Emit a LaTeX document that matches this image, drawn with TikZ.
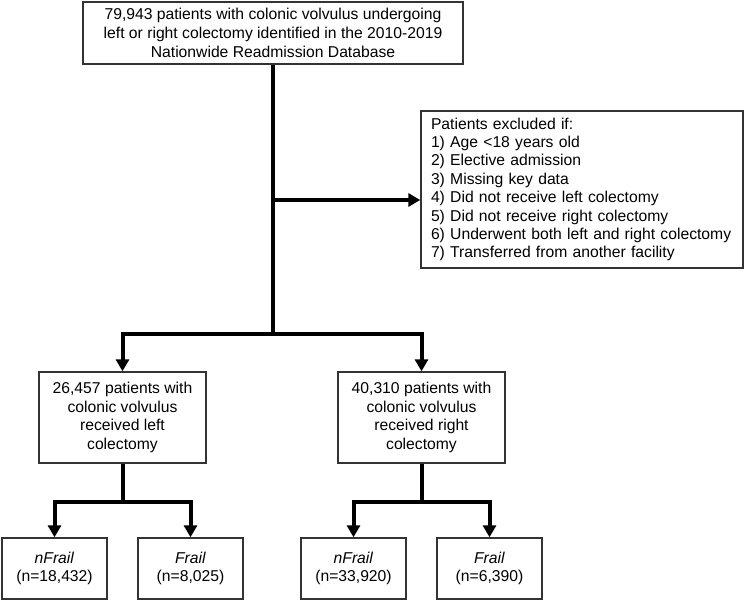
\documentclass[tikz,border=0pt]{standalone}
\usepackage{fontspec}
\setmainfont{Liberation Sans}
\usetikzlibrary{arrows.meta}

\begin{document}
\begin{tikzpicture}[x=1pt,y=-1pt,
    box/.style={draw=black!80,line width=1.4pt,align=center,inner sep=0pt,
        font=\fontsize{15.7}{18.4}\selectfont},
    flow/.style={line width=4pt,-{Triangle[length=12pt,width=13pt]}},
    link/.style={line width=4pt}]
            \useasboundingbox (0,0) rectangle (745,602);
            % boxes
            \node[box,minimum width=380pt,minimum height=62pt,font=\fontsize{15.7}{19}\selectfont] (top) at (273,33)
                {79,943 patients with colonic volvulus undergoing\\left or right colectomy identified in the 2010-2019\\Nationwide Readmission Database};
            \node[box,align=left,text width=302pt,inner xsep=10pt,minimum height=157pt] (excl) at (582,189.5)
                {Patients excluded if:\\1) Age <18 years old\\2) Elective admission\\3) Missing key data\\4) Did not receive left colectomy\\5) Did not receive right colectomy\\6) Underwent both left and right colectomy\\7) Transferred from another facility};
            \node[box,minimum width=167pt,minimum height=91pt] (left) at (122.5,417.5)
                {26,457 patients with\\colonic volvulus\\received left\\colectomy};
            \node[box,minimum width=167pt,minimum height=91pt] (right) at (421.5,417.5)
                {40,310 patients with\\colonic volvulus\\received right\\colectomy};
            \node[box,minimum width=105pt,minimum height=61pt] (nfrailL) at (54.5,568.5) {\textit{nFrail}\\(n=18,432)};
            \node[box,minimum width=105pt,minimum height=61pt] (frailL) at (190.5,568.5) {\textit{Frail}\\(n=8,025)};
            \node[box,minimum width=105pt,minimum height=61pt] (nfrailR) at (353.5,568.5) {\textit{nFrail}\\(n=33,920)};
            \node[box,minimum width=105pt,minimum height=61pt] (frailR) at (489.5,568.5) {\textit{Frail}\\(n=6,390)};
            % connectors
            \coordinate (exit) at (273,200);
            \coordinate (split) at (273,334);
            \coordinate (splitL) at (122.5,502);
            \coordinate (splitR) at (421.5,502);
            \draw[link] (top.south) -- (split);
            \draw[flow] (exit) -- (excl.west |- exit);
            \draw[flow] (split) -| (left.north);
            \draw[flow] (split) -| (right.north);
            \draw[link] (left.south) -- (splitL);
            \draw[flow] (splitL) -| (nfrailL.north);
            \draw[flow] (splitL) -| (frailL.north);
            \draw[link] (right.south) -- (splitR);
            \draw[flow] (splitR) -| (nfrailR.north);
            \draw[flow] (splitR) -| (frailR.north);
        \end{tikzpicture}
\end{document}
